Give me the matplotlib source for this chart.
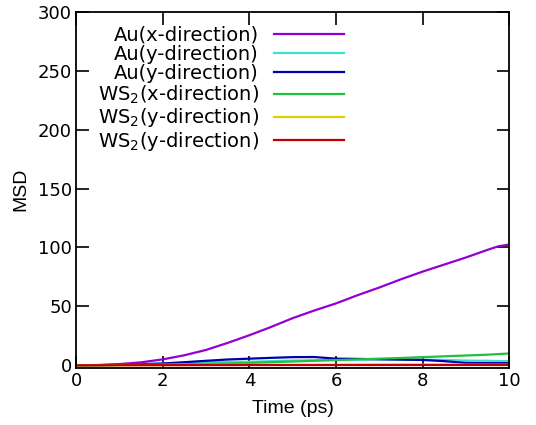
import matplotlib
matplotlib.use("Agg")
import matplotlib.pyplot as plt

# Time axis (ps) and MSD values
t = [0, 0.5, 1, 1.5, 2, 2.5, 3, 3.5, 4, 4.5, 5, 5.5, 6, 6.5, 7, 7.5, 8, 8.5, 9, 9.5, 9.75, 10]

au_x  = [0, 0.2, 1.0, 2.5, 5.0, 8.5, 13, 19, 25.5, 32.5, 40, 46.5, 52.5, 59.5, 66, 73, 79.5, 85.5, 91.5, 98, 101, 102.5]
au_y1 = [0, 0.1, 0.3, 0.8, 1.5, 2.0, 2.5, 2.8, 3.0, 3.5, 4.0, 4.3, 4.5, 4.8, 5.0, 5.0, 4.8, 4.5, 4.0, 3.8, 3.6, 3.6]
au_y2 = [0, 0.1, 0.4, 0.9, 1.5, 2.6, 3.8, 4.9, 5.6, 6.3, 6.9, 7.0, 5.6, 5.4, 5.1, 4.8, 4.5, 3.5, 2.0, 1.8, 1.8, 1.8]
ws_x  = [0, 0.1, 0.2, 0.4, 0.6, 0.9, 1.2, 1.6, 2.0, 2.6, 3.2, 3.8, 4.4, 5.0, 5.6, 6.2, 6.9, 7.6, 8.3, 9.0, 9.5, 10.0]
ws_y1 = [0, 0.05, 0.1, 0.15, 0.2, 0.25, 0.3, 0.3, 0.35, 0.35, 0.4, 0.4, 0.4, 0.45, 0.45, 0.5, 0.5, 0.5, 0.5, 0.5, 0.5, 0.5]
ws_y2 = [0, 0.02, 0.05, 0.08, 0.1, 0.12, 0.15, 0.15, 0.18, 0.2, 0.2, 0.2, 0.22, 0.22, 0.25, 0.25, 0.25, 0.25, 0.25, 0.25, 0.25, 0.25]

series = [au_x, au_y1, au_y2, ws_x, ws_y1, ws_y2]
labels = ["Au(x-direction)", "Au(y-direction)", "Au(y-direction)",
          r"WS$_2$(x-direction)", r"WS$_2$(y-direction)", r"WS$_2$(y-direction)"]
colors = ["#9400d3", "#40e0d0", "#0000b0", "#20c040", "#e0d000", "#c00000"]

plt.rcParams["mathtext.default"] = "regular"

fig, ax = plt.subplots(figsize=(5.36, 4.25), dpi=100)
fig.subplots_adjust(left=0.142, right=0.950, top=0.972, bottom=0.135)

for y, lab, c in zip(series, labels, colors):
    ax.plot(t, y, color=c, lw=1.6, label=lab)

ax.set_xlim(0, 10)
ax.set_ylim(-2, 300)
ax.set_xticks([0, 2, 4, 6, 8, 10])
ax.set_yticks([0, 50, 100, 150, 200, 250, 300])
ax.tick_params(direction="in", length=9, width=1.2, top=True, right=True,
               labelsize=13, pad=3)
for s in ax.spines.values():
    s.set_linewidth(1.3)

ax.set_xlabel("Time (ps)", family="Liberation Sans", fontsize=14, labelpad=7)
ax.set_ylabel("MSD", family="Liberation Sans", fontsize=14, labelpad=6)

ax.legend(loc="upper left", bbox_to_anchor=(0.018, 1.0), frameon=False,
          markerfirst=False, fontsize=14, handlelength=3.6,
          handletextpad=0.8, labelspacing=0.02, borderaxespad=0.3)

fig.savefig("out.png", dpi=100)
